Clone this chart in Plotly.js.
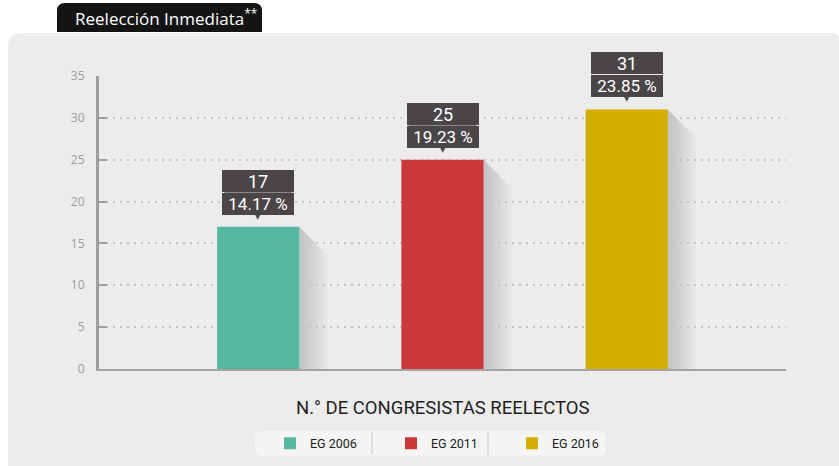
<!DOCTYPE html>
<html>
<head>
<meta charset="utf-8">
<script src="https://cdn.plot.ly/plotly-3.0.1.min.js"></script>
<style>
  html, body { margin: 0; padding: 0; background: #ffffff; }
  #chart { width: 839px; height: 466px; }
</style>
</head>
<body>
<div id="chart"></div>
<script>
// ---- data ----
const categories = ['EG 2006', 'EG 2011', 'EG 2016'];
const reelectos = [17, 25, 31];
const porcentajes = [14.17, 19.23, 23.85];
const barColors = ['#55b6a2', '#c9393a', '#d4af00'];
const yTickValues = [0, 5, 10, 15, 20, 25, 30, 35];
const headerText = 'Reelección Inmediata';
const axisTitle = 'N.° DE CONGRESISTAS REELECTOS';

// ---- layout geometry helpers (pixels -> paper) ----
const ML = 99, MT = 76, PW = 687, PH = 293;
const FW = 839, FH = 466;
const X = p => (p - ML) / PW;
const Y = p => (MT + PH - p) / PH;
const xRange = [-0.864, 2.864];
const yRange = [0, 35];
const xUnitPx = PW / (xRange[1] - xRange[0]);
const yUnitPx = PH / (yRange[1] - yRange[0]);
const barWidth = 0.446;

const COND = 'Roboto, "Liberation Sans", sans-serif';

const traces = categories.map((c, i) => ({
  type: 'bar',
  x: [i],
  y: [reelectos[i]],
  name: c,
  width: barWidth,
  marker: { color: barColors[i] },
  hoverinfo: 'skip'
}));

const shapes = [];
// gray panel
shapes.push({
  type: 'path', xref: 'paper', yref: 'paper', layer: 'below',
  path: `M${X(8)},${Y(470)} L${X(8)},${Y(46)} Q${X(8)},${Y(33)} ${X(21)},${Y(33)} L${X(832)},${Y(33)} Q${X(839)},${Y(33)} ${X(839)},${Y(40)} L${X(839)},${Y(470)} Z`,
  fillcolor: '#ececec', line: { width: 0 }
});
// header tab
shapes.push({
  type: 'path', xref: 'paper', yref: 'paper', layer: 'below',
  path: `M${X(57)},${Y(32)} L${X(57)},${Y(11)} Q${X(57)},${Y(3)} ${X(65)},${Y(3)} L${X(254)},${Y(3)} Q${X(262)},${Y(3)} ${X(262)},${Y(11)} L${X(262)},${Y(32)} Z`,
  fillcolor: '#141414', line: { width: 0 }
});
// legend background
shapes.push({
  type: 'path', xref: 'paper', yref: 'paper', layer: 'below',
  path: `M${X(255)},${Y(443)} L${X(255)},${Y(439)} Q${X(255)},${Y(431)} ${X(263)},${Y(431)} L${X(598)},${Y(431)} Q${X(606)},${Y(431)} ${X(606)},${Y(439)} L${X(606)},${Y(448)} Q${X(606)},${Y(456)} ${X(598)},${Y(456)} L${X(263)},${Y(456)} Q${X(255)},${Y(456)} ${X(255)},${Y(448)} Z`,
  fillcolor: '#f5f5f5', line: { width: 0 }
});
[372, 488].forEach(sx => shapes.push({
  type: 'line', xref: 'paper', yref: 'paper', layer: 'below',
  x0: X(sx), x1: X(sx), y0: Y(432), y1: Y(455),
  line: { color: '#dedede', width: 2 }
}));
// bar shadows (layered for a soft gradient)
reelectos.forEach((v, i) => {
  const xr = i + barWidth / 2;
  [28, 24, 20, 16, 12, 8, 4].forEach(d => {
    const dx = d / xUnitPx, dy = d / yUnitPx;
    shapes.push({
      type: 'path', xref: 'x', yref: 'y', layer: 'below',
      path: `M${xr},${v} L${xr + dx},${v - dy} L${xr + dx},0 L${xr},0 Z`,
      fillcolor: 'rgba(0,0,0,0.022)', line: { width: 0 }
    });
  });
  // divider inside label box
  shapes.push({
    type: 'line', xref: 'x', yref: 'y', layer: 'above',
    ysizemode: 'pixel', yanchor: v,
    x0: i - 34 / xUnitPx, x1: i + 34 / xUnitPx, y0: 34.5, y1: 34.5,
    line: { color: '#6a6667', width: 1.2 }
  });
});

const annotations = [];
reelectos.forEach((v, i) => {
  annotations.push({
    x: i, y: v, xref: 'x', yref: 'y', showarrow: false,
    text: String(v), yanchor: 'bottom', yshift: 35,
    width: 72, height: 22, borderpad: 0, borderwidth: 0,
    bgcolor: '#4a4647', font: { family: COND, size: 18, color: '#ffffff' }
  });
  annotations.push({
    x: i, y: v, xref: 'x', yref: 'y', showarrow: false,
    text: porcentajes[i].toFixed(2) + ' %', yanchor: 'bottom', yshift: 12,
    width: 72, height: 22, borderpad: 0, borderwidth: 0,
    bgcolor: '#4a4647', font: { family: COND, size: 17, color: '#ffffff' }
  });
  annotations.push({
    x: i, y: v, xref: 'x', yref: 'y', showarrow: false,
    text: '▼', yanchor: 'middle', yshift: 10,
    font: { family: 'DejaVu Sans', size: 7, color: '#4a4647' }
  });
});
annotations.push({
  xref: 'paper', yref: 'paper', x: X(73), y: Y(18), xanchor: 'left', yanchor: 'middle',
  showarrow: false, text: headerText + '<sup>**</sup>',
  font: { family: '"Open Sans", sans-serif', size: 17, color: '#ffffff' }
});
annotations.push({
  xref: 'paper', yref: 'paper', x: X(442), y: Y(408), xanchor: 'center', yanchor: 'middle',
  showarrow: false, text: axisTitle,
  font: { family: COND, size: 18.5, color: '#1e1e1e' }
});

const layout = {
  width: FW, height: FH,
  margin: { l: ML, r: FW - ML - PW, t: MT, b: FH - MT - PH, pad: 0, autoexpand: false },
  paper_bgcolor: '#ffffff',
  plot_bgcolor: 'rgba(0,0,0,0)',
  barmode: 'overlay',
  showlegend: true,
  legend: {
    orientation: 'h', x: X(270), xanchor: 'left', y: Y(443.5), yanchor: 'middle',
    bgcolor: 'rgba(0,0,0,0)', borderwidth: 0,
    entrywidth: 76, entrywidthmode: 'pixels',
    font: { family: COND, size: 12.5, color: '#1a1a1a' },
    itemclick: false, itemdoubleclick: false
  },
  xaxis: {
    range: xRange, showticklabels: false, showgrid: false, zeroline: false,
    showline: true, linecolor: '#a3a3a3', linewidth: 2, ticks: '', fixedrange: true
  },
  yaxis: {
    range: yRange, tickvals: yTickValues, ticktext: yTickValues.map(String),
    ticks: 'inside', ticklen: 8, tickwidth: 2, tickcolor: '#9e9e9e',
    ticklabelstandoff: 9,
    showline: true, linecolor: '#9e9e9e', linewidth: 3,
    showgrid: true, gridcolor: '#c4c4c4', griddash: '2px,5px', gridwidth: 2,
    zeroline: false, fixedrange: true,
    tickfont: { family: '"Open Sans", sans-serif', size: 12, color: '#9b9b9b' }
  },
  shapes: shapes,
  annotations: annotations
};

Plotly.newPlot('chart', traces, layout, { displayModeBar: false, staticPlot: true });
</script>
</body>
</html>
